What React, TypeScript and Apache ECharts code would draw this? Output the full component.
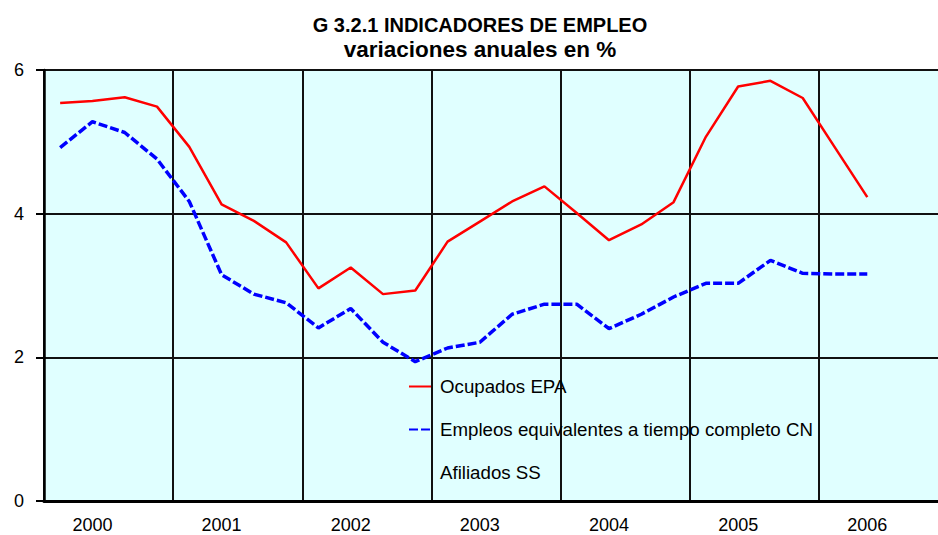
import React, { useEffect, useRef } from 'react';
import * as echarts from 'echarts';

const years = ['2000', '2001', '2002', '2003', '2004', '2005', '2006'];
const quarters = ['I', 'II', 'III', 'IV'];
const yTicks = { min: 0, max: 6, step: 2 };
const seriesNames = ['Ocupados EPA', 'Empleos equivalentes a tiempo completo CN', 'Afiliados SS'];
const titleLines = ['G 3.2.1 INDICADORES DE EMPLEO', 'variaciones anuales en %'];

const ocupadosEPA = [5.54, 5.57, 5.62, 5.49, 4.93, 4.13, 3.90, 3.60, 2.96, 3.25, 2.88, 2.93, 3.61, 3.89, 4.17, 4.38, 4.01, 3.63, 3.85, 4.16, 5.07, 5.77, 5.85, 5.61, 4.92, 4.23];
const empleosCN = [4.92, 5.28, 5.13, 4.76, 4.17, 3.15, 2.88, 2.76, 2.41, 2.68, 2.21, 1.94, 2.13, 2.21, 2.60, 2.74, 2.74, 2.40, 2.60, 2.84, 3.03, 3.03, 3.35, 3.17, 3.16, 3.16];
const afiliadosSS: number[] = [];

const categories = years.flatMap((y) => quarters.map((q) => `${y} ${q}`));
const FONT = 'Arial, "Liberation Sans", sans-serif';

export default function App() {
  const ref = useRef<HTMLDivElement>(null);
  useEffect(() => {
    if (!ref.current) return;
    const chart = echarts.init(ref.current, undefined, { renderer: 'svg' });
    chart.setOption({
      animation: false,
      textStyle: { fontFamily: FONT },
      graphic: [
        {
          type: 'text',
          x: 480,
          y: 25,
          style: { text: titleLines[0], font: `bold 20px ${FONT}`, fill: '#000', align: 'center', verticalAlign: 'middle' },
        },
        {
          type: 'text',
          x: 480,
          y: 49,
          style: { text: titleLines[1], font: `bold 22.5px ${FONT}`, fill: '#000', align: 'center', verticalAlign: 'middle' },
        },
      ],
      grid: {
        left: 44,
        top: 70,
        width: 904,
        height: 431,
        show: true,
        backgroundColor: '#E0FFFF',
        borderWidth: 0,
        outerBoundsMode: 'none',
        containLabel: false,
      },
      legend: {
        orient: 'vertical',
        left: 408,
        top: 377,
        itemWidth: 22,
        itemHeight: 14,
        itemGap: 24,
        padding: 0,
        data: seriesNames,
        itemStyle: { color: 'rgba(0,0,0,0)', borderWidth: 0, opacity: 0 },
        textStyle: { fontSize: 18.7, color: '#000', fontFamily: FONT, lineHeight: 18, padding: [0, 0, 0, 4] },
      },
      xAxis: {
        type: 'category',
        data: categories,
        boundaryGap: true,
        axisLine: { lineStyle: { color: '#000', width: 3 } },
        axisTick: { show: false },
        axisLabel: {
          interval: (i: number) => i % 4 === 1,
          formatter: (v: string) => v.split(' ')[0],
          fontSize: 18,
          color: '#000',
          margin: 15,
          fontFamily: FONT,
        },
        splitLine: {
          show: true,
          interval: (i: number) => i % 4 === 0,
          lineStyle: { color: '#111', width: 2 },
        },
      },
      yAxis: {
        type: 'value',
        min: yTicks.min,
        max: yTicks.max,
        interval: yTicks.step,
        axisLine: { show: true, lineStyle: { color: '#000', width: 2.5 } },
        axisTick: { show: true, length: 8, lineStyle: { color: '#000', width: 2 } },
        axisLabel: { fontSize: 18, color: '#000', margin: 20, fontFamily: FONT },
        splitLine: { show: true, lineStyle: { color: '#111', width: 2 } },
      },
      series: [
        {
          name: seriesNames[0],
          type: 'line',
          data: ocupadosEPA,
          symbol: 'none',
          lineStyle: { color: '#FF0000', width: 2.5 },
          itemStyle: { color: '#FF0000' },
        },
        {
          name: seriesNames[1],
          type: 'line',
          data: empleosCN,
          symbol: 'none',
          lineStyle: { color: '#0000FF', width: 3.5, type: [9, 3] },
          itemStyle: { color: '#0000FF' },
        },
        {
          name: seriesNames[2],
          type: 'line',
          data: afiliadosSS,
          symbol: 'none',
          lineStyle: { color: 'rgba(0,0,0,0)', width: 2 },
          itemStyle: { color: 'rgba(0,0,0,0)' },
        },
      ],
    });
    return () => chart.dispose();
  }, []);
  return <div ref={ref} style={{ position: 'absolute', left: 0, top: 0, width: 938, height: 535 }} />;
}
